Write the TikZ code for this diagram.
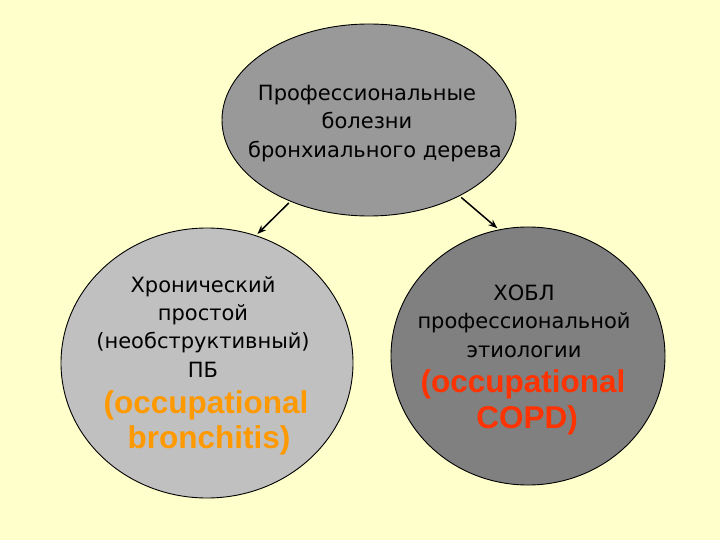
\documentclass[tikz,border=0pt]{standalone}
\usepackage{fontspec}
\setmainfont{DejaVu Sans}
\newfontfamily\boldarial{Liberation Sans}
\usetikzlibrary{shapes.geometric,arrows.meta}
\definecolor{bgyellow}{HTML}{FFFFCC}
\definecolor{topgray}{HTML}{999999}
\definecolor{leftgray}{HTML}{C0C0C0}
\definecolor{rightgray}{HTML}{808080}
\definecolor{orangetxt}{HTML}{FF9900}
\definecolor{redtxt}{HTML}{FF3300}
\tikzset{
  bubble/.style={ellipse, draw=black, line width=0.9bp, inner sep=0pt},
  ru/.style={anchor=base, inner sep=0pt, font=\fontsize{21bp}{25bp}\selectfont},
  en/.style={anchor=base, inner sep=0pt, font=\boldarial\bfseries\fontsize{31.5bp}{36bp}\selectfont},
  link/.style={-{Stealth[length=9bp,width=7bp]}, line width=1.5bp, black, shorten <=2bp, shorten >=2bp}
}
\begin{document}
\begin{tikzpicture}[x=1bp,y=-1bp]
\fill[bgyellow] (0,0) rectangle (720,540);
\useasboundingbox (0,0) rectangle (720,540);
\node[bubble, fill=topgray, minimum width=294bp, minimum height=192bp] (top) at (369,120) {};
\node[bubble, fill=leftgray, minimum width=292bp, minimum height=270bp] (left) at (207,363) {};
\node[bubble, fill=rightgray, minimum width=274bp, minimum height=258bp] (right) at (528,356) {};
% top text
\node[ru] (t1) at (367,101) {Профессиональные};
\node[ru] (t2) at (367,129) {болезни};
\node[ru] (t3) at (375,158) {бронхиального дерева};
% left text
\node[ru] (l1) at (203,292) {Хронический};
\node[ru] (l2) at (203,320) {простой};
\node[ru] (l3) at (203,348) {(необструктивный)};
\node[ru] (l4) at (203,377) {ПБ};
\node[en, text=orangetxt] (l5) at (206,413) {(occupational};
\node[en, text=orangetxt] (l6) at (209,448) {bronchitis)};
% right text
\node[ru] (r1) at (524,300) {ХОБЛ};
\node[ru] (r2) at (524,328) {профессиональной};
\node[ru] (r3) at (524,357) {этиологии};
\node[en, text=redtxt] (r4) at (523,392) {(occupational};
\node[en, text=redtxt] (r5) at (527,428) {COPD)};
% arrows
\draw[link] (top.226) -- (left.69);
\draw[link] (top.320) -- (right.103);
\end{tikzpicture}
\end{document}
